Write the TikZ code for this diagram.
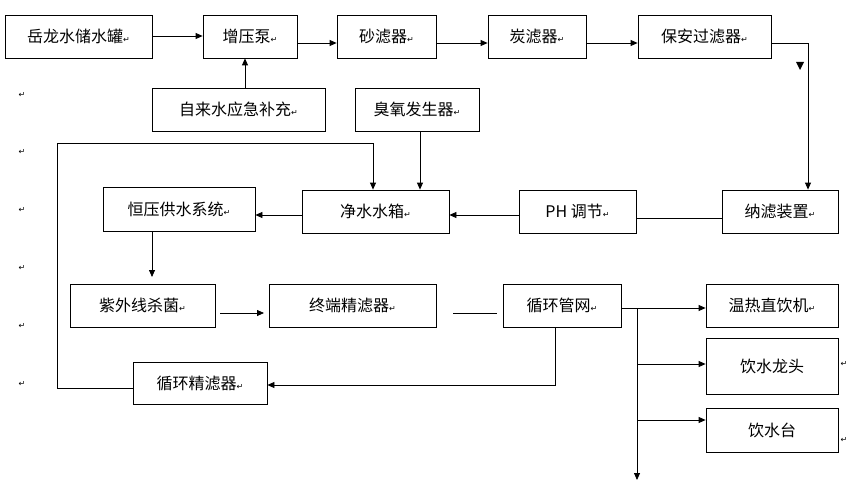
\documentclass[tikz,border=0pt]{standalone}
\usepackage{fontspec}
\setmainfont{Noto Sans CJK SC}
\newfontfamily\symf{DejaVu Sans}
\usetikzlibrary{arrows.meta}
\newcommand{\rt}{{\symf\fontsize{8}{8}\selectfont ↵}}
\begin{document}
\begin{tikzpicture}[x=1pt,y=-1pt,
  bx/.style={draw,line width=0.8pt,inner sep=0pt,font=\fontsize{16}{16}\selectfont},
  ar/.style={-{Triangle[length=7pt,width=6pt]},line width=0.8pt},
  ln/.style={line width=0.8pt},
  mk/.style={inner sep=0pt,font=\symf\fontsize{8}{8}\selectfont}]
\useasboundingbox (0,0) rectangle (853,484);
\def\B#1#2#3#4#5#6{\node[bx,minimum width={#4-#2},minimum height={#5-#3}] (#1) at ({(#2+#4)/2},{(#3+#5)/2}) {#6\rt};}
\B{a}{5}{15}{152}{58}{岳龙水储水罐}
\B{b}{203}{15}{297}{58}{增压泵}
\B{c}{337}{15}{436}{58}{砂滤器}
\B{d}{488}{15}{586}{58}{炭滤器}
\B{e}{638}{15}{771}{58}{保安过滤器}
\B{f}{152}{88}{325}{131}{自来水应急补充}
\B{g}{355}{88}{479}{131}{臭氧发生器}
\B{h}{103}{187}{255}{231}{恒压供水系统}
\B{i}{302}{190}{449}{233}{净水水箱}
\B{j}{519}{190}{636}{233}{PH 调节}
\B{k}{722}{190}{838}{233}{纳滤装置}
\B{l}{70}{284}{215}{327}{紫外线杀菌}
\B{m}{269}{284}{436}{327}{终端精滤器}
\B{n}{503}{284}{621}{327}{循环管网}
\B{o}{706}{284}{838}{327}{温热直饮机}
\node[bx,minimum width=132,minimum height=56] (p) at (772,366) {饮水龙头};
\node[bx,minimum width=132,minimum height=44] (q) at (772,430) {饮水台};
\B{r}{133}{362}{267}{404}{循环精滤器}
% connectors
\draw[ar] (a.east|-0,36) -- (b.west|-0,36);
\draw[ar] (b.east|-0,43) -- (c.west|-0,43);
\draw[ar] (c.east|-0,43) -- (d.west|-0,43);
\draw[ar] (d.east|-0,43) -- (e.west|-0,43);
\draw[ar] (f.north-|245,0) -- (b.south-|245,0);
\coordinate (e1) at (808,43);
\draw[ar] (e.east|-e1) -- (e1) -- (k.north-|e1);
\fill (796,62) -- (804,62) -- (800,70) -- cycle;
\coordinate (kj) at (636,218);
\draw[ln] (k.west|-kj) -- (j.east|-kj);
\draw[ar] (j.west|-0,215) -- (i.east|-0,215);
\draw[ar] (g.south-|420,0) -- (i.north-|420,0);
\draw[ar] (i.west|-0,215) -- (h.east|-0,215);
\coordinate (l1) at (152,277);
\draw[ar] (h.south-|l1) -- (l1);
\coordinate (m0) at (220,313); \coordinate (m1) at (264,313);
\draw[ar] (m0) -- (m1);
\coordinate (n0) at (453,313); \coordinate (n1) at (497,313);
\draw[ln] (n0) -- (n1);
\coordinate (br) at (637,308); \coordinate (bot) at (637,480);
\draw[ar] (n.east|-br) -- (o.west|-br);
\draw[ar] (br) -- (bot);
\draw[ar] (637,364) -- (p.west|-0,364);
\draw[ar] (637,420) -- (q.west|-0,420);
\coordinate (c1) at (555,385);
\draw[ar] (n.south-|c1) -- (c1) -- (r.east|-c1);
\coordinate (t1) at (57,388); \coordinate (t2) at (57,143); \coordinate (t3) at (373,143);
\draw[ar] (r.west|-t1) -- (t1) -- (t2) -- (t3) -- (i.north-|t3);
% stray return marks
\foreach \y in {95,152,210,268,326,384} \node[mk] (m\y) at (22,\y) {↵};
\node[mk] (mp) at (844,364) {↵};
\node[mk] (mq) at (844,440) {↵};
\end{tikzpicture}
\end{document}
